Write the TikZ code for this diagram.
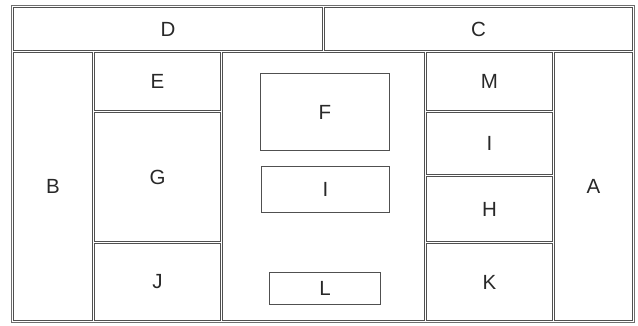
\documentclass[tikz,border=0pt]{standalone}
\usepackage{fontspec}
\setmainfont{Liberation Sans}
\usetikzlibrary{fit}
\definecolor{bordc}{RGB}{80,80,80}
\definecolor{outc}{RGB}{110,110,110}
\definecolor{txtc}{RGB}{40,40,40}
\tikzset{
  cell/.style={draw=bordc, line width=1pt, inner sep=0pt},
  outer/.style={draw=outc, line width=1.3pt, inner sep=0pt},
  lbl/.style={inner sep=0pt, font=\fontsize{20.5}{24}\selectfont, text=txtc}
}
\begin{document}
\begin{tikzpicture}[x=1pt,y=-1pt]
\useasboundingbox (0,0) rectangle (638,325);
\node[outer, fit={(11.5,5.5) (634.5,322.5)}] (tbl) {};
% row 1
\node[cell, fit={(13.5,7.5) (322.5,50.5)}] (d) {};
\node[cell, fit={(324.5,7.5) (632.5,50.5)}] (c) {};
% left column
\node[cell, fit={(13.5,52.5) (92.5,320.5)}] (b) {};
\node[cell, fit={(94.5,52.5) (220.5,110.5)}] (e) {};
\node[cell, fit={(94.5,112.5) (220.5,241.5)}] (g) {};
\node[cell, fit={(94.5,243.5) (220.5,320.5)}] (j) {};
% middle
\node[cell, fit={(222.5,52.5) (424.5,320.5)}] (mid) {};
\node[cell, fit={(260.5,73.5) (389.5,150.5)}] (f) {};
\node[cell, fit={(261.5,166.5) (389.5,212.5)}] (i1) {};
\node[cell, fit={(269.5,272.5) (380.5,304.5)}] (l) {};
% right column
\node[cell, fit={(426.5,52.5) (552.5,110.5)}] (m) {};
\node[cell, fit={(426.5,112.5) (552.5,174.5)}] (i2) {};
\node[cell, fit={(426.5,176.5) (552.5,241.5)}] (h) {};
\node[cell, fit={(426.5,243.5) (552.5,320.5)}] (k) {};
\node[cell, fit={(554.5,52.5) (632.5,320.5)}] (a) {};
% labels
\node[lbl] (dl) at (d.center) {D};
\node[lbl] (cl) at (c.center) {C};
\node[lbl] (bl) at (b.center) {B};
\node[lbl] (el) at (e.center) {E};
\node[lbl] (gl) at (g.center) {G};
\node[lbl] (jl) at (j.center) {J};
\node[lbl] (fl) at (f.center) {F};
\node[lbl] (i1l) at (i1.center) {I};
\node[lbl] (ll) at (l.center) {L};
\node[lbl] (ml) at (m.center) {M};
\node[lbl] (i2l) at (i2.center) {I};
\node[lbl] (hl) at (h.center) {H};
\node[lbl] (kl) at (k.center) {K};
\node[lbl] (al) at (a.center) {A};
\end{tikzpicture}
\end{document}
